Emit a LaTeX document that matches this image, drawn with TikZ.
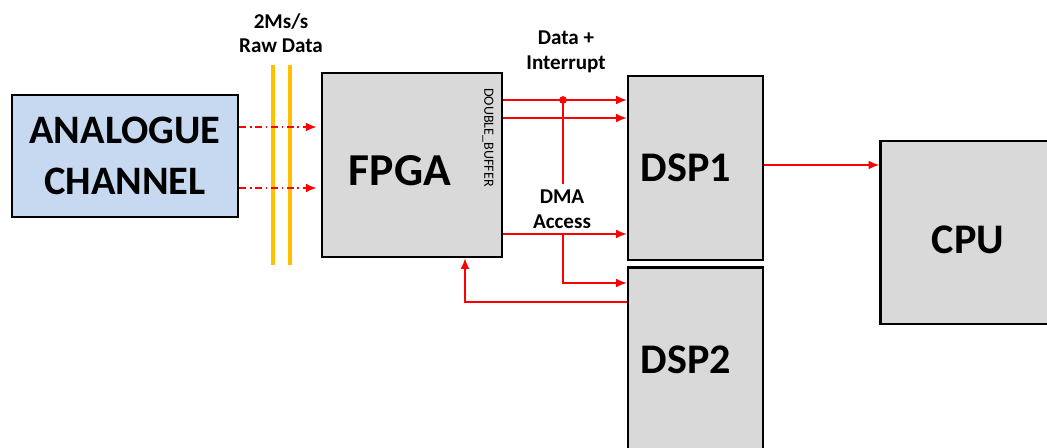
\documentclass[tikz,border=0pt]{standalone}
\usepackage{fontspec}
\setmainfont{Carlito}
\usetikzlibrary{arrows.meta,positioning}
\definecolor{boxgray}{HTML}{D9D9D9}
\definecolor{chanblue}{HTML}{C6D9F0}
\definecolor{busgold}{HTML}{FFC000}
\tikzset{
  blk/.style={draw=black,line width=1.6pt,fill=boxgray,inner sep=0pt},
  sig/.style={red,line width=0.7pt,-{Latex[length=6pt,width=5pt]}},
  wire/.style={red,line width=0.7pt},
  raw/.style={sig,dash pattern=on 4pt off 2pt on 1pt off 2pt},
  lbl/.style={font=\bfseries\fontsize{12}{14}\selectfont,align=center}
}
\newcommand{\bus}[1]{\draw[busgold,line width=2.2pt] (#1,65) -- (#1,265);}

\begin{document}
\begin{tikzpicture}[x=0.02cm,y=-0.02cm]
  \useasboundingbox (0,0) rectangle (1047,448);
  % blocks
  \node[blk,fill=chanblue,minimum width=4.52cm,minimum height=2.44cm,align=center,
        font=\bfseries\fontsize{23}{29}\selectfont] (chan) at (125,156) {ANALOGUE\\CHANNEL};
  \node[blk,minimum width=3.6cm,minimum height=3.68cm] (fpga) at (412,165) {};
  \node[font=\bfseries\fontsize{26}{30}\selectfont] (fpgat) at (400,171) {FPGA};
  \node[rotate=-90,font=\fontsize{8}{9}\selectfont,anchor=west] (dbuf) at (488,82) {DOUBLE\_BUFFER};
  \node[blk,minimum width=2.7cm,minimum height=3.68cm] (dsp1) at (695.5,168) {};
  \node[font=\bfseries\fontsize{24}{28}\selectfont] (dsp1t) at (686,168) {DSP1};
  \node[blk,minimum width=2.7cm,minimum height=3.9cm] (dsp2) at (695.5,365) {};
  \node[font=\bfseries\fontsize{24}{28}\selectfont] (dsp2t) at (686,360) {DSP2};
  \node[blk,minimum width=3.5cm,minimum height=3.66cm] (cpu) at (968,232.5) {};
  \node[font=\bfseries\fontsize{24}{28}\selectfont] (cput) at (968,240) {CPU};
  % raw data bus
  \bus{273} \bus{290}
  \node[lbl] (rate) at (281,33) {2Ms/s\\Raw Data};
  \draw[raw] (chan.east |- 0,127) -- ++(77,0);
  \draw[raw] (chan.east |- 0,188) -- ++(77,0);
  % fpga to dsp
  \node[lbl] (dint) at (566,52) {Data +\\Interrupt};
  \node[lbl] (dma) at (562,209) {DMA\\Access};
  \draw[sig] (fpga.east |- 0,100) -- (dsp1.west |- 0,100);
  \draw[sig] (fpga.east |- 0,118) -- (dsp1.west |- 0,118);
  \draw[sig] (fpga.east |- 0,234) -- (dsp1.west |- 0,234);
  \fill[red] (563,100) circle (2.2pt);
  \draw[wire] (563,100) -- (dma.north -| 563,0);
  \draw[sig] (dma.south -| 563,0) -- (563,283) -- (dsp2.west |- 0,283);
  \draw[sig] (dsp2.west |- 0,302) -- (465,302) -- (fpga.south -| 465,0);
  \draw[sig] (dsp1.east |- 0,165) -- (cpu.west |- 0,165);
\end{tikzpicture}
\end{document}
